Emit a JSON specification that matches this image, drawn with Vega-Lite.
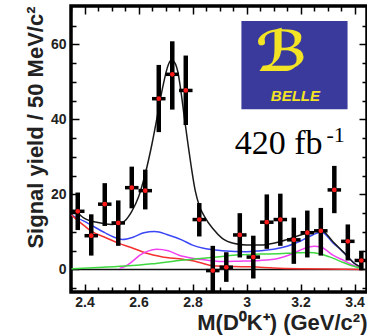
{
  "$schema": "https://vega.github.io/schema/vega-lite/v6.json",
  "width": 296,
  "height": 286,
  "autosize": {"type": "none"},
  "padding": {"left": 71, "top": 6, "right": 0, "bottom": 43},
  "background": "white",
  "datasets": {
    "one": [{"k": 1}],
    "curves": [
      {"x": 2.352, "y": 14.5, "c": "a_blue"}, {"x": 2.4, "y": 12.8, "c": "a_blue"}, {"x": 2.425, "y": 11.8, "c": "a_blue"}, {"x": 2.475, "y": 9.8, "c": "a_blue"}, {"x": 2.51, "y": 8.6, "c": "a_blue"}, {"x": 2.54, "y": 8.0, "c": "a_blue"}, {"x": 2.58, "y": 8.6, "c": "a_blue"}, {"x": 2.62, "y": 9.8, "c": "a_blue"}, {"x": 2.66, "y": 10.1, "c": "a_blue"}, {"x": 2.71, "y": 9.2, "c": "a_blue"}, {"x": 2.76, "y": 7.9, "c": "a_blue"}, {"x": 2.8, "y": 6.5, "c": "a_blue"}, {"x": 2.845, "y": 5.6, "c": "a_blue"}, {"x": 2.91, "y": 5.0, "c": "a_blue"}, {"x": 3.0, "y": 4.7, "c": "a_blue"}, {"x": 3.05, "y": 5.0, "c": "a_blue"}, {"x": 3.1, "y": 5.4, "c": "a_blue"}, {"x": 3.15, "y": 6.2, "c": "a_blue"}, {"x": 3.2, "y": 7.6, "c": "a_blue"}, {"x": 3.245, "y": 9.2, "c": "a_blue"}, {"x": 3.277, "y": 10.0, "c": "a_blue"}, {"x": 3.32, "y": 7.1, "c": "a_blue"}, {"x": 3.363, "y": 4.3, "c": "a_blue"}, {"x": 3.4, "y": 1.6, "c": "a_blue"}, {"x": 3.43, "y": 0.4, "c": "a_blue"},
      {"x": 2.352, "y": 14.5, "c": "b_red"}, {"x": 2.4, "y": 11.6, "c": "b_red"}, {"x": 2.425, "y": 10.2, "c": "b_red"}, {"x": 2.475, "y": 8.6, "c": "b_red"}, {"x": 2.53, "y": 6.9, "c": "b_red"}, {"x": 2.575, "y": 5.8, "c": "b_red"}, {"x": 2.63, "y": 4.3, "c": "b_red"}, {"x": 2.685, "y": 3.4, "c": "b_red"}, {"x": 2.765, "y": 2.7, "c": "b_red"}, {"x": 2.8, "y": 2.3, "c": "b_red"}, {"x": 2.83, "y": 1.8, "c": "b_red"}, {"x": 2.875, "y": 1.0, "c": "b_red"}, {"x": 2.95, "y": 0.8, "c": "b_red"}, {"x": 3.02, "y": 0.7, "c": "b_red"}, {"x": 3.1, "y": 0.4, "c": "b_red"}, {"x": 3.2, "y": 0.2, "c": "b_red"}, {"x": 3.3, "y": 0.1, "c": "b_red"}, {"x": 3.43, "y": 0.0, "c": "b_red"},
      {"x": 2.53, "y": 0.3, "c": "c_mag"}, {"x": 2.555, "y": 1.0, "c": "c_mag"}, {"x": 2.575, "y": 2.0, "c": "c_mag"}, {"x": 2.605, "y": 3.8, "c": "c_mag"}, {"x": 2.635, "y": 4.9, "c": "c_mag"}, {"x": 2.667, "y": 5.4, "c": "c_mag"}, {"x": 2.71, "y": 5.0, "c": "c_mag"}, {"x": 2.75, "y": 3.8, "c": "c_mag"}, {"x": 2.8, "y": 3.0, "c": "c_mag"}, {"x": 2.85, "y": 2.5, "c": "c_mag"}, {"x": 2.91, "y": 2.1, "c": "c_mag"}, {"x": 2.97, "y": 2.2, "c": "c_mag"}, {"x": 3.05, "y": 2.4, "c": "c_mag"}, {"x": 3.12, "y": 3.0, "c": "c_mag"}, {"x": 3.17, "y": 4.2, "c": "c_mag"}, {"x": 3.21, "y": 5.5, "c": "c_mag"}, {"x": 3.25, "y": 6.2, "c": "c_mag"}, {"x": 3.275, "y": 6.0, "c": "c_mag"}, {"x": 3.32, "y": 3.8, "c": "c_mag"}, {"x": 3.363, "y": 2.3, "c": "c_mag"}, {"x": 3.4, "y": 1.0, "c": "c_mag"}, {"x": 3.43, "y": 0.3, "c": "c_mag"},
      {"x": 2.352, "y": 0.2, "c": "d_green"}, {"x": 2.45, "y": 0.5, "c": "d_green"}, {"x": 2.55, "y": 0.9, "c": "d_green"}, {"x": 2.65, "y": 1.5, "c": "d_green"}, {"x": 2.75, "y": 2.4, "c": "d_green"}, {"x": 2.83, "y": 2.9, "c": "d_green"}, {"x": 2.9, "y": 3.4, "c": "d_green"}, {"x": 2.97, "y": 3.9, "c": "d_green"}, {"x": 3.05, "y": 4.1, "c": "d_green"}, {"x": 3.12, "y": 4.2, "c": "d_green"}, {"x": 3.18, "y": 4.4, "c": "d_green"}, {"x": 3.23, "y": 4.5, "c": "d_green"}, {"x": 3.27, "y": 4.2, "c": "d_green"}, {"x": 3.31, "y": 3.3, "c": "d_green"}, {"x": 3.35, "y": 2.1, "c": "d_green"}, {"x": 3.39, "y": 1.0, "c": "d_green"}, {"x": 3.43, "y": 0.3, "c": "d_green"},
      {"x": 2.365, "y": 15.8, "c": "e_total"}, {"x": 2.4, "y": 13.6, "c": "e_total"}, {"x": 2.45, "y": 12.5, "c": "e_total"}, {"x": 2.5, "y": 12.0, "c": "e_total"}, {"x": 2.525, "y": 12.1, "c": "e_total"}, {"x": 2.55, "y": 13.0, "c": "e_total"}, {"x": 2.575, "y": 15.5, "c": "e_total"}, {"x": 2.6, "y": 19.3, "c": "e_total"}, {"x": 2.625, "y": 25.5, "c": "e_total"}, {"x": 2.65, "y": 33.5, "c": "e_total"}, {"x": 2.67, "y": 41.0, "c": "e_total"}, {"x": 2.69, "y": 48.7, "c": "e_total"}, {"x": 2.71, "y": 54.5, "c": "e_total"}, {"x": 2.722, "y": 55.8, "c": "e_total"}, {"x": 2.735, "y": 55.0, "c": "e_total"}, {"x": 2.746, "y": 52.5, "c": "e_total"}, {"x": 2.758, "y": 47.0, "c": "e_total"}, {"x": 2.77, "y": 40.3, "c": "e_total"}, {"x": 2.783, "y": 33.5, "c": "e_total"}, {"x": 2.795, "y": 27.5, "c": "e_total"}, {"x": 2.81, "y": 21.0, "c": "e_total"}, {"x": 2.825, "y": 17.0, "c": "e_total"}, {"x": 2.845, "y": 14.0, "c": "e_total"}, {"x": 2.875, "y": 10.9, "c": "e_total"}, {"x": 2.91, "y": 8.3, "c": "e_total"}, {"x": 2.955, "y": 6.9, "c": "e_total"}, {"x": 3.0, "y": 6.5, "c": "e_total"}, {"x": 3.05, "y": 6.5, "c": "e_total"}, {"x": 3.1, "y": 7.0, "c": "e_total"}, {"x": 3.15, "y": 8.0, "c": "e_total"}, {"x": 3.2, "y": 9.2, "c": "e_total"}, {"x": 3.245, "y": 10.0, "c": "e_total"}, {"x": 3.275, "y": 10.5, "c": "e_total"}, {"x": 3.32, "y": 7.4, "c": "e_total"}, {"x": 3.363, "y": 4.3, "c": "e_total"}, {"x": 3.4, "y": 1.6, "c": "e_total"}, {"x": 3.43, "y": 0.4, "c": "e_total"}
    ],
    "points": [
      {"x": 2.375, "x0": 2.35, "x1": 2.4, "y": 15.5, "lo": 10.5, "hi": 20.5},
      {"x": 2.425, "x0": 2.4, "x1": 2.45, "y": 9.0, "lo": 3.7, "hi": 14.7},
      {"x": 2.475, "x0": 2.45, "x1": 2.5, "y": 17.4, "lo": 11.6, "hi": 23.0},
      {"x": 2.525, "x0": 2.5, "x1": 2.55, "y": 12.4, "lo": 6.3, "hi": 18.4},
      {"x": 2.575, "x0": 2.55, "x1": 2.6, "y": 21.8, "lo": 16.3, "hi": 27.4},
      {"x": 2.625, "x0": 2.6, "x1": 2.65, "y": 21.0, "lo": 16.0, "hi": 26.6},
      {"x": 2.675, "x0": 2.65, "x1": 2.7, "y": 45.5, "lo": 36.6, "hi": 54.5},
      {"x": 2.725, "x0": 2.7, "x1": 2.75, "y": 52.0, "lo": 42.6, "hi": 60.8},
      {"x": 2.775, "x0": 2.75, "x1": 2.8, "y": 47.7, "lo": 38.5, "hi": 57.0},
      {"x": 2.825, "x0": 2.8, "x1": 2.85, "y": 13.3, "lo": 8.8, "hi": 17.7},
      {"x": 2.875, "x0": 2.85, "x1": 2.9, "y": -0.3, "lo": -5.8, "hi": 6.3},
      {"x": 2.925, "x0": 2.9, "x1": 2.95, "y": 0.6, "lo": -3.3, "hi": 4.6},
      {"x": 2.975, "x0": 2.95, "x1": 3.0, "y": 9.2, "lo": 3.2, "hi": 15.0},
      {"x": 3.025, "x0": 3.0, "x1": 3.05, "y": 3.3, "lo": -2.4, "hi": 9.0},
      {"x": 3.075, "x0": 3.05, "x1": 3.1, "y": 12.6, "lo": 5.5, "hi": 20.0},
      {"x": 3.125, "x0": 3.1, "x1": 3.15, "y": 13.3, "lo": 6.3, "hi": 20.2},
      {"x": 3.175, "x0": 3.15, "x1": 3.2, "y": 7.9, "lo": 1.5, "hi": 13.8},
      {"x": 3.225, "x0": 3.2, "x1": 3.25, "y": 9.8, "lo": 3.2, "hi": 15.7},
      {"x": 3.275, "x0": 3.25, "x1": 3.3, "y": 10.3, "lo": 3.7, "hi": 16.4},
      {"x": 3.325, "x0": 3.3, "x1": 3.35, "y": 21.2, "lo": 15.0, "hi": 27.6},
      {"x": 3.375, "x0": 3.35, "x1": 3.4, "y": 7.5, "lo": 2.4, "hi": 12.0},
      {"x": 3.425, "x0": 3.4, "x1": 3.45, "y": 2.4, "lo": -0.2, "hi": 5.0}
    ]
  },
  "resolve": {"axis": {"x": "independent", "y": "independent"}},
  "layer": [
    {
      "data": {"name": "one"},
      "mark": {"type": "rule", "color": "#111", "strokeWidth": 1.6},
      "encoding": {
        "y": {"datum": 0, "type": "quantitative", "scale": {"domain": [-6, 70.2], "nice": false, "zero": false}, "axis": null}
      }
    },
    {
      "data": {"name": "curves"},
      "mark": {"type": "line", "strokeWidth": 1.5, "interpolate": "monotone", "clip": true},
      "encoding": {
        "x": {"field": "x", "type": "quantitative", "scale": {"domain": [2.35, 3.446], "nice": false, "zero": false},
              "axis": {"orient": "bottom", "values": [2.4, 2.6, 2.8, 3, 3.2, 3.4], "format": "~g", "tickSize": -8, "labelPadding": 11, "title": "M(D⁰K⁺) (GeV/c²)", "titleAnchor": "end", "titlePadding": 3, "titleFontSize": 22}},
        "y": {"field": "y", "type": "quantitative", "scale": {"domain": [-6, 70.2], "nice": false, "zero": false},
              "axis": {"orient": "left", "values": [0, 20, 40, 60], "tickSize": -8, "labelPadding": 13, "title": "Signal yield / 50 MeV/c²", "titleAnchor": "end", "titlePadding": 3, "titleFontSize": 22}},
        "color": {"field": "c", "type": "nominal", "legend": null,
                  "scale": {"domain": ["a_blue", "b_red", "c_mag", "d_green", "e_total"], "range": ["#3a46f5", "#f53030", "#f040f0", "#40d840", "#1a1a1a"]}}
      }
    },
    {
      "data": {"name": "points"},
      "mark": {"type": "rule", "color": "#000", "strokeWidth": 4.5, "clip": true},
      "encoding": {
        "x": {"field": "x", "type": "quantitative", "scale": {"domain": [2.35, 3.446], "nice": false, "zero": false},
              "axis": {"orient": "bottom", "values": [2.35, 2.45, 2.5, 2.55, 2.65, 2.7, 2.75, 2.85, 2.9, 2.95, 3.05, 3.1, 3.15, 3.25, 3.3, 3.35], "tickSize": -5, "labels": false, "title": null}},
        "y": {"field": "lo", "type": "quantitative", "scale": {"domain": [-6, 70.2], "nice": false, "zero": false},
              "axis": {"orient": "left", "values": [-5, 5, 10, 15, 25, 30, 35, 45, 50, 55, 65], "tickSize": -5, "labels": false, "title": null}},
        "y2": {"field": "hi"}
      }
    },
    {
      "data": {"name": "points"},
      "mark": {"type": "rule", "color": "#000", "strokeWidth": 3.5, "clip": true},
      "encoding": {
        "x": {"field": "x0", "type": "quantitative", "scale": {"domain": [2.35, 3.446], "nice": false, "zero": false},
              "axis": {"orient": "top", "values": [2.4, 2.6, 2.8, 3, 3.2, 3.4], "tickSize": -8, "labels": false, "title": null}},
        "x2": {"field": "x1"},
        "y": {"field": "y", "type": "quantitative", "scale": {"domain": [-6, 70.2], "nice": false, "zero": false},
              "axis": {"orient": "right", "values": [0, 20, 40, 60], "tickSize": -8, "labels": false, "title": null}}
      }
    },
    {
      "data": {"name": "points"},
      "mark": {"type": "circle", "color": "#ff1a1a", "opacity": 1, "size": 22},
      "encoding": {
        "x": {"field": "x", "type": "quantitative", "scale": {"domain": [2.35, 3.446], "nice": false, "zero": false},
              "axis": {"orient": "top", "values": [2.35, 2.45, 2.5, 2.55, 2.65, 2.7, 2.75, 2.85, 2.9, 2.95, 3.05, 3.1, 3.15, 3.25, 3.3, 3.35], "tickSize": -5, "labels": false, "title": null}},
        "y": {"field": "y", "type": "quantitative", "scale": {"domain": [-6, 70.2], "nice": false, "zero": false},
              "axis": {"orient": "right", "values": [-5, 5, 10, 15, 25, 30, 35, 45, 50, 55, 65], "tickSize": -5, "labels": false, "title": null}}
      }
    },
    {
      "data": {"name": "one"},
      "mark": {"type": "rect", "fill": "#3a3a9c"},
      "encoding": {
        "x": {"datum": 2.981, "type": "quantitative", "axis": null},
        "x2": {"datum": 3.374},
        "y": {"datum": 66.2, "type": "quantitative", "axis": null},
        "y2": {"datum": 42.7}
      }
    },
    {
      "data": {"name": "one"},
      "mark": {"type": "text", "text": "ℬ", "font": "DejaVu Sans", "fontSize": 56, "fontWeight": "bold", "color": "#f2e424", "align": "center", "baseline": "middle"},
      "encoding": {
        "x": {"datum": 3.13, "type": "quantitative", "axis": null},
        "y": {"datum": 57.5, "type": "quantitative", "axis": null}
      }
    },
    {
      "data": {"name": "one"},
      "mark": {"type": "text", "text": "BELLE", "font": "Liberation Sans", "fontSize": 15, "fontStyle": "italic", "fontWeight": "bold", "color": "#f2e424", "align": "center", "baseline": "alphabetic"},
      "encoding": {
        "x": {"datum": 3.181, "type": "quantitative", "axis": null},
        "y": {"datum": 44.9, "type": "quantitative", "axis": null}
      }
    },
    {
      "data": {"name": "one"},
      "mark": {"type": "text", "text": "420 fb", "font": "Liberation Serif", "fontSize": 34, "color": "#000", "align": "left", "baseline": "alphabetic"},
      "encoding": {
        "x": {"datum": 2.956, "type": "quantitative", "axis": null},
        "y": {"datum": 30.7, "type": "quantitative", "axis": null}
      }
    },
    {
      "data": {"name": "one"},
      "mark": {"type": "text", "text": "-1", "font": "Liberation Serif", "fontSize": 22, "color": "#000", "align": "left", "baseline": "alphabetic"},
      "encoding": {
        "x": {"datum": 3.296, "type": "quantitative", "axis": null},
        "y": {"datum": 34.0, "type": "quantitative", "axis": null}
      }
    }
  ],
  "config": {
    "view": {"stroke": "#000", "strokeWidth": 3.5},
    "axis": {
      "domain": false, "grid": false,
      "tickColor": "#000", "tickWidth": 1.5,
      "labelFont": "Liberation Sans", "labelFontWeight": "bold", "labelFontSize": 14, "labelColor": "#222",
      "titleFont": "Liberation Sans", "titleFontWeight": "bold", "titleFontSize": 21, "titleColor": "#222"
    }
  }
}
